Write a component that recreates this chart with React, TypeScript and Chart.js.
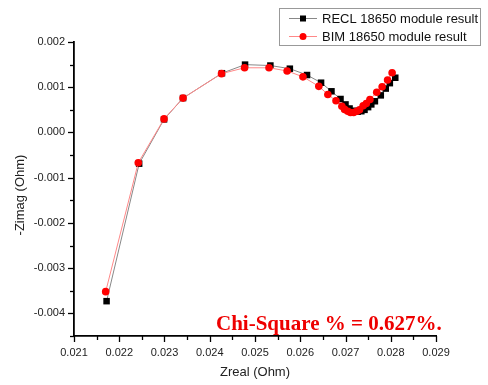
import React, { useEffect, useRef } from "react";
import { Chart, registerables } from "chart.js";

Chart.register(...registerables);

const reclX = [0.02172, 0.02244, 0.02299, 0.02341, 0.02427, 0.02478, 0.02534, 0.02577, 0.02615, 0.02646, 0.02669, 0.02689, 0.027, 0.02709, 0.02718, 0.02727, 0.02735, 0.02742, 0.0275, 0.02757, 0.02765, 0.02778, 0.02789, 0.02798, 0.0281];
const reclY = [-0.00373, -0.00069, 0.00029, 0.00076, 0.00131, 0.0015, 0.00148, 0.00141, 0.00127, 0.0011, 0.00091, 0.00074, 0.00062, 0.00053, 0.00048, 0.00046, 0.00047, 0.0005, 0.00056, 0.00062, 0.00069, 0.00082, 0.00097, 0.00109, 0.00121];
const bimX = [0.0217, 0.02242, 0.02299, 0.02341, 0.02426, 0.02477, 0.02531, 0.02571, 0.02606, 0.02641, 0.02661, 0.02679, 0.02692, 0.02698, 0.02705, 0.02711, 0.02718, 0.02725, 0.02731, 0.02739, 0.02746, 0.02754, 0.02769, 0.02781, 0.02793, 0.02803];
const bimY = [-0.00352, -0.00067, 0.0003, 0.00076, 0.0013, 0.00143, 0.00143, 0.00136, 0.00123, 0.00102, 0.00084, 0.0007, 0.00058, 0.00051, 0.00047, 0.00044, 0.00044, 0.00047, 0.0005, 0.00059, 0.00064, 0.00073, 0.00089, 0.00101, 0.00116, 0.00132];

const seriesNames = ["RECL 18650 module result", "BIM 18650 module result"];
const xTitle = "Zreal (Ohm)";
const yTitle = "-Zimag (Ohm)";
const annotation = "Chi-Square % = 0.627%.";
const xMin = 0.021, xMax = 0.029, yMin = -0.0045, yMax = 0.002, minorStep = 0.0005;

const labelCb = (v: any) => {
  const n = Math.round(Number(v) / minorStep);
  if (n % 2 !== 0) return "";
  const s = (n * minorStep).toFixed(3);
  return s === "-0.000" ? "0.000" : s;
};

const overlay = {
  id: "overlay",
  afterDraw(chart: any) {
    const ctx = chart.ctx;
    const xs = chart.scales.x, ys = chart.scales.y;
    const ca = chart.chartArea;
    ctx.save();
    ctx.strokeStyle = "#000";
    ctx.lineWidth = 1.3;
    for (let i = 0; i <= Math.round((xMax - xMin) / minorStep); i++) {
      const v = xMin + i * minorStep;
      const px = Math.round(xs.getPixelForValue(v)) + 0.5;
      const len = i % 2 === 0 ? 6 : 4;
      ctx.beginPath();
      ctx.moveTo(px, ca.bottom);
      ctx.lineTo(px, ca.bottom + len);
      ctx.stroke();
    }
    for (let i = 0; i <= Math.round((yMax - yMin) / minorStep); i++) {
      const v = yMax - i * minorStep;
      const py = Math.round(ys.getPixelForValue(v)) + 0.5;
      const len = i % 2 === 0 ? 6 : 4;
      ctx.beginPath();
      ctx.moveTo(ca.left, py);
      ctx.lineTo(ca.left - len, py);
      ctx.stroke();
    }
    ctx.fillStyle = "#222";
    ctx.font = "13px 'Liberation Sans', Arial, sans-serif";
    ctx.textAlign = "center";
    ctx.textBaseline = "middle";
    ctx.fillText(xTitle, (ca.left + ca.right) / 2, 372);
    ctx.save();
    ctx.translate(20, 195);
    ctx.rotate(-Math.PI / 2);
    ctx.fillText(yTitle, 0, 0);
    ctx.restore();
    ctx.strokeStyle = "#999";
    ctx.lineWidth = 1;
    ctx.strokeRect(279.5, 8.5, 201, 37);
    const rows = [
      { y: 18.5, line: "#888", fill: "#000", shape: "rect" },
      { y: 36.5, line: "#f88", fill: "#ff0000", shape: "circle" },
    ];
    rows.forEach((r, i) => {
      ctx.strokeStyle = r.line;
      ctx.beginPath();
      ctx.moveTo(289, r.y);
      ctx.lineTo(317, r.y);
      ctx.stroke();
      ctx.fillStyle = r.fill;
      if (r.shape === "rect") {
        ctx.fillRect(300, r.y - 3, 6, 6);
      } else {
        ctx.beginPath();
        ctx.arc(303, r.y, 3.5, 0, Math.PI * 2);
        ctx.fill();
      }
      ctx.fillStyle = "#111";
      ctx.font = "13px 'Liberation Sans', Arial, sans-serif";
      ctx.textAlign = "left";
      ctx.textBaseline = "middle";
      ctx.fillText(seriesNames[i], 322, r.y + 1);
    });
    ctx.fillStyle = "#ee0000";
    ctx.font = "bold 21px 'Liberation Serif', 'Times New Roman', serif";
    ctx.textAlign = "left";
    ctx.textBaseline = "alphabetic";
    ctx.fillText(annotation, 216, 330);
    ctx.restore();
  },
};

export default function App() {
  const ref = useRef<HTMLCanvasElement>(null);
  useEffect(() => {
    const canvas = ref.current!;
    const chart = new Chart(canvas, {
      type: "scatter",
      data: {
        datasets: [
          {
            label: seriesNames[0],
            data: reclX.map((x, i) => ({ x, y: reclY[i] })),
            showLine: true,
            borderColor: "#888",
            borderWidth: 1,
            backgroundColor: "#000",
            pointBackgroundColor: "#000",
            pointBorderWidth: 0,
            pointStyle: "rect",
            pointRadius: 4.6,
            order: 2,
          },
          {
            label: seriesNames[1],
            data: bimX.map((x, i) => ({ x, y: bimY[i] })),
            showLine: true,
            borderColor: "#f88",
            borderWidth: 1,
            backgroundColor: "#ff0000",
            pointBackgroundColor: "#ff0000",
            pointBorderWidth: 0,
            pointStyle: "circle",
            pointRadius: 3.8,
            order: 1,
          },
        ],
      },
      options: {
        responsive: false,
        animation: false,
        events: [],
        layout: { padding: { left: 0, top: 42, right: 52, bottom: 0 } },
        plugins: { legend: { display: false }, tooltip: { enabled: false } },
        scales: {
          x: {
            type: "linear",
            min: xMin,
            max: xMax,
            afterFit: (s: any) => { s.height = 49; },
            grid: { display: false, drawTicks: false },
            border: { display: true, color: "#000", width: 1.8 },
            ticks: {
              stepSize: minorStep,
              autoSkip: false,
              maxRotation: 0,
              padding: 10,
              color: "#222",
              font: { size: 11, family: "'Liberation Sans', Arial, sans-serif" },
              callback: labelCb,
            },
          },
          y: {
            type: "linear",
            min: yMin,
            max: yMax,
            afterFit: (s: any) => { s.width = 74; },
            grid: { display: false, drawTicks: false },
            border: { display: true, color: "#000", width: 1.8 },
            ticks: {
              stepSize: minorStep,
              autoSkip: false,
              padding: 9,
              color: "#222",
              font: { size: 11, family: "'Liberation Sans', Arial, sans-serif" },
              callback: labelCb,
            },
          },
        },
      },
      plugins: [overlay],
    } as any);
    return () => chart.destroy();
  }, []);
  return (
    <div style={{ position: "absolute", left: 0, top: 0, width: 488, height: 385, background: "#fff" }}>
      <canvas ref={ref} width={488} height={385} style={{ display: "block" }} />
    </div>
  );
}
